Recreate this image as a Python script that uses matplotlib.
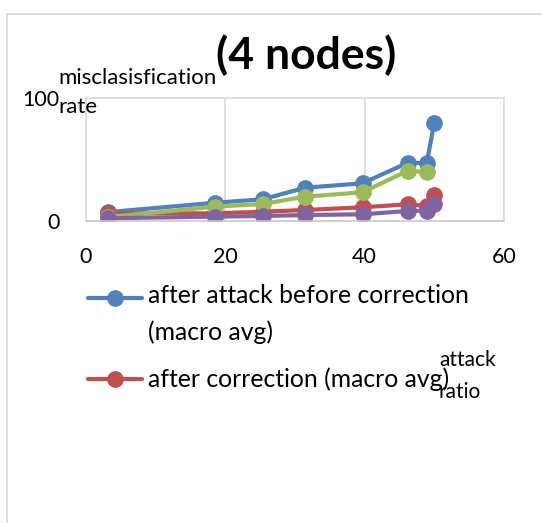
import numpy as np
import matplotlib
matplotlib.use("Agg")
import matplotlib.pyplot as plt
from matplotlib.lines import Line2D
from matplotlib.legend_handler import HandlerLine2D

plt.rcParams['font.family'] = ['Lato', 'DejaVu Sans']

# data
attack_ratio = [3.2, 18.5, 25.4, 31.4, 39.7, 46.2, 48.9, 50.0]
before_corr_macro = [7.0, 14.6, 17.4, 26.8, 30.4, 47.2, 46.7, 79.7]
after_corr_macro = [6.0, 6.0, 7.3, 8.7, 10.9, 13.3, 12.0, 20.9]
green_series = [3.0, 11.4, 13.6, 19.5, 23.1, 40.7, 39.3]
purple_series = [2.0, 3.3, 3.8, 4.6, 5.2, 7.9, 8.2, 13.5]
xticks = [0, 20, 40, 60]
yticks = [0, 100]

BLUE = '#4f81bd'
RED = '#c0504d'
GREEN = '#9bbb59'
PURPLE = '#8064a2'
GRID = '#d9d9d9'


class RaisedHandler(HandlerLine2D):
    # keeps the legend line level with the first line of a wrapped label
    def __init__(self, lift=0, **kw):
        super().__init__(**kw)
        self.lift = lift

    def create_artists(self, legend, orig_handle, xdescent, ydescent,
                       width, height, fontsize, trans):
        return super().create_artists(legend, orig_handle, xdescent,
                                      ydescent - 2 * self.lift, width,
                                      height, fontsize, trans)


W, H = 542, 523
fig = plt.figure(figsize=(W / 100, H / 100), dpi=100)

# outer chart frame (only top and left show)
fig.add_artist(Line2D([7 / W, 7 / W], [0, 1 - 14 / H], color=GRID, lw=1.2))
fig.add_artist(Line2D([7 / W, 1], [1 - 14 / H, 1 - 14 / H], color=GRID, lw=1.2))

ax = fig.add_axes([86 / W, 1 - 220.7 / H, (504 - 86) / W, (220.7 - 97.7) / H])

kw = dict(lw=3.0, marker='o', ms=11, solid_capstyle='round')
l_blue, = ax.plot(attack_ratio, before_corr_macro, color=BLUE, **kw)
l_red, = ax.plot(attack_ratio, after_corr_macro, color=RED, **kw)
ax.plot(attack_ratio[:len(green_series)], green_series, color=GREEN, **kw)
ax.plot(attack_ratio, purple_series, color=PURPLE, **kw)

ax.set_xlim(0, 60)
ax.set_ylim(0, 100)
ax.set_xticks(xticks)
ax.set_yticks(yticks)
ax.xaxis.grid(True, color=GRID, lw=1.2)
ax.set_axisbelow(True)
for s in ax.spines.values():
    s.set_color(GRID)
    s.set_linewidth(1.2)
ax.spines['bottom'].set_color('#c8c8c8')
ax.tick_params(length=0, labelsize=15.5, pad=19)
for lab in ax.get_xticklabels() + ax.get_yticklabels():
    lab.set_clip_on(False)

fig.text(306 / W, 1 - 69 / H, '(4 nodes)', ha='center', va='baseline',
         fontsize=32, fontweight='bold')
# baseline given is that of the last line
fig.text(58 / W, 1 - 113 / H, 'misclasisfication\nrate', ha='left',
         va='baseline', fontsize=16, linespacing=1.55)
fig.text(439 / W, 1 - 398 / H, 'attack\nratio', ha='left',
         va='baseline', fontsize=15, linespacing=1.75)

leg = fig.legend([l_blue, l_red],
                 ['after attack before correction\n(macro avg)',
                  'after correction (macro avg)'],
                 loc='upper left', bbox_to_anchor=(88 / W, 1 - 284 / H),
                 frameon=False, borderpad=0, borderaxespad=0,
                 handlelength=2.2, handletextpad=0.22, labelspacing=0.95,
                 fontsize=17.8, markerscale=1.0,
                 handler_map={l_blue: RaisedHandler(lift=12.6)})
for t in leg.get_texts():
    t.set_linespacing(1.7)

fig.savefig('out.png', dpi=100)
